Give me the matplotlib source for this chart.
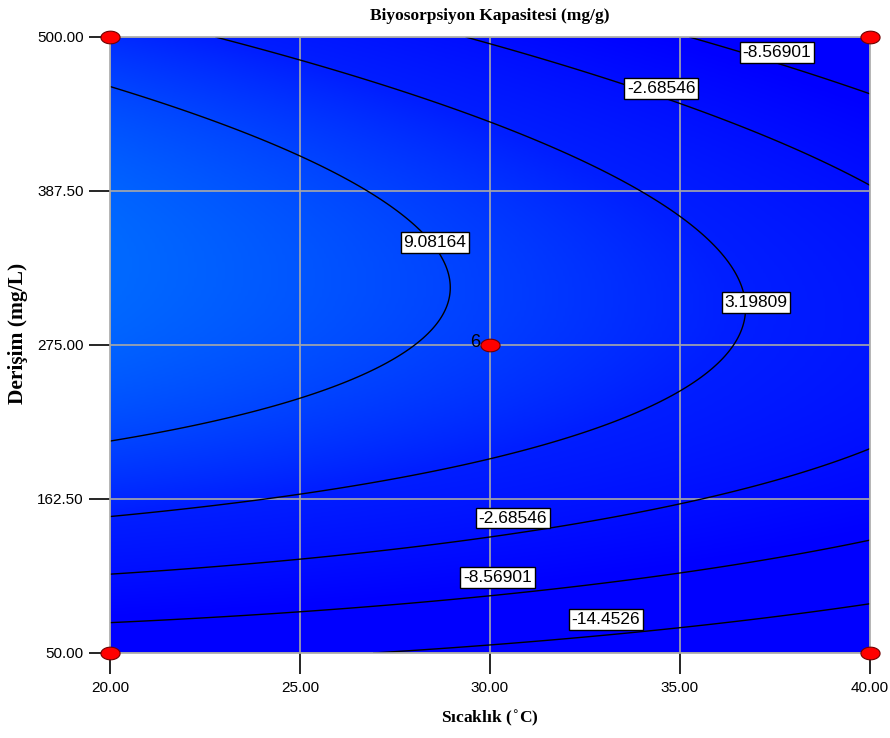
import numpy as np
import matplotlib
matplotlib.use("Agg")
import matplotlib.pyplot as plt
from matplotlib.colors import LinearSegmentedColormap
from matplotlib.path import Path

# Fitted quadratic response-surface coefficients (coded units)
# z = b0 + bA*A + bB*B + bAB*A*B + bAA*A^2 + bBB*B^2
coef_names = ["b0", "bA", "bB", "bAB", "bAA", "bBB"]
coef_values = [7.8, -6.635, 6.1, -2.97, -0.85, -17.2]

x_range = [20.0, 40.0]
y_range = [50.0, 500.0]
x_ticks = [20.0, 25.0, 30.0, 35.0, 40.0]
y_ticks = [50.0, 162.5, 275.0, 387.5, 500.0]
levels = [-14.4526, -8.56901, -2.68546, 3.19809, 9.08164]

design_x = [20, 20, 40, 40, 30]
design_y = [50, 500, 50, 500, 275]
center_label = "6"

label_text = ["-8.56901", "-2.68546", "9.08164", "3.19809", "-2.68546", "-8.56901", "-14.4526"]
label_x = [37.55, 34.5, 28.55, 37.0, 30.6, 30.2, 33.05]
label_y = [488.5, 462.5, 350.0, 306.0, 148.5, 105.0, 74.5]

b0, bA, bB, bAB, bAA, bBB = coef_values

xs = np.linspace(x_range[0], x_range[1], 300)
ys = np.linspace(y_range[0], y_range[1], 300)
X, Y = np.meshgrid(xs, ys)
A = (X - 30.0) / 10.0
B = (Y - 275.0) / 225.0
Z = b0 + bA * A + bB * B + bAB * A * B + bAA * A**2 + bBB * B**2

fig = plt.figure(figsize=(8.9, 7.38), dpi=100)
ax = fig.add_axes([110 / 890, 1 - 653 / 738, 760 / 890, 616 / 738])

cmap = LinearSegmentedColormap.from_list(
    "de", [(0, 0, 1.0), (0, 0.12, 1.0), (0, 0.42, 1.0)])
ax.imshow(Z, origin="lower", extent=[x_range[0], x_range[1], y_range[0], y_range[1]],
          aspect="auto", cmap=cmap, vmin=-8, vmax=15, interpolation="bilinear", zorder=0)

for xt in x_ticks:
    ax.axvline(xt, color="#a8a8a8", lw=1.2, zorder=1)
for yt in y_ticks:
    ax.axhline(yt, color="#a8a8a8", lw=1.2, zorder=1)

cs = ax.contour(X, Y, Z, levels=levels, colors="black", linewidths=1.0,
                linestyles="solid", zorder=2)

for txt, lx, ly in zip(label_text, label_x, label_y):
    ax.text(lx, ly, txt, ha="center", va="center", fontsize=12.5,
            fontfamily="Liberation Sans", zorder=5,
            bbox=dict(boxstyle="square,pad=0.16", fc="white", ec="black", lw=1.0))

t = np.linspace(0, 2 * np.pi, 60)
ell = Path(np.column_stack([np.cos(t), 0.66 * np.sin(t)]))
ax.scatter(design_x, design_y, s=190, marker=ell, facecolor="red", edgecolor="#700000",
           linewidth=0.8, zorder=6, clip_on=False)
ax.text(29.75, 277, center_label, ha="right", va="center", fontsize=13,
        fontfamily="Liberation Sans", zorder=6)

ax.set_xlim(x_range)
ax.set_ylim(y_range)
ax.set_xticks(x_ticks)
ax.set_yticks(y_ticks)
ax.set_xticklabels([f"{v:.2f}" for v in x_ticks], fontfamily="Liberation Sans", fontsize=11)
ax.set_yticklabels([f"{v:.2f}" for v in y_ticks], fontfamily="Liberation Sans", fontsize=11)
ax.tick_params(direction="out", length=15, width=1.2, color="black")
ax.tick_params(axis="x", pad=5)
ax.tick_params(axis="y", pad=4)
for s in ax.spines.values():
    s.set_color("#a8a8a8")
    s.set_linewidth(1.2)

ax.set_title("Biyosorpsiyon Kapasitesi (mg/g)", fontfamily="Liberation Serif",
             fontweight="bold", fontsize=12.5, pad=12)
ax.set_xlabel("Sıcaklık ($^{\\circ}$C)", fontfamily="Liberation Serif",
              fontweight="bold", fontsize=12.5, labelpad=10)
ax.set_ylabel("Derişim (mg/L)", fontfamily="Liberation Serif",
              fontweight="bold", fontsize=15.5)
ax.yaxis.set_label_coords(-0.108, 0.519)

fig.savefig("out.png", dpi=100)
